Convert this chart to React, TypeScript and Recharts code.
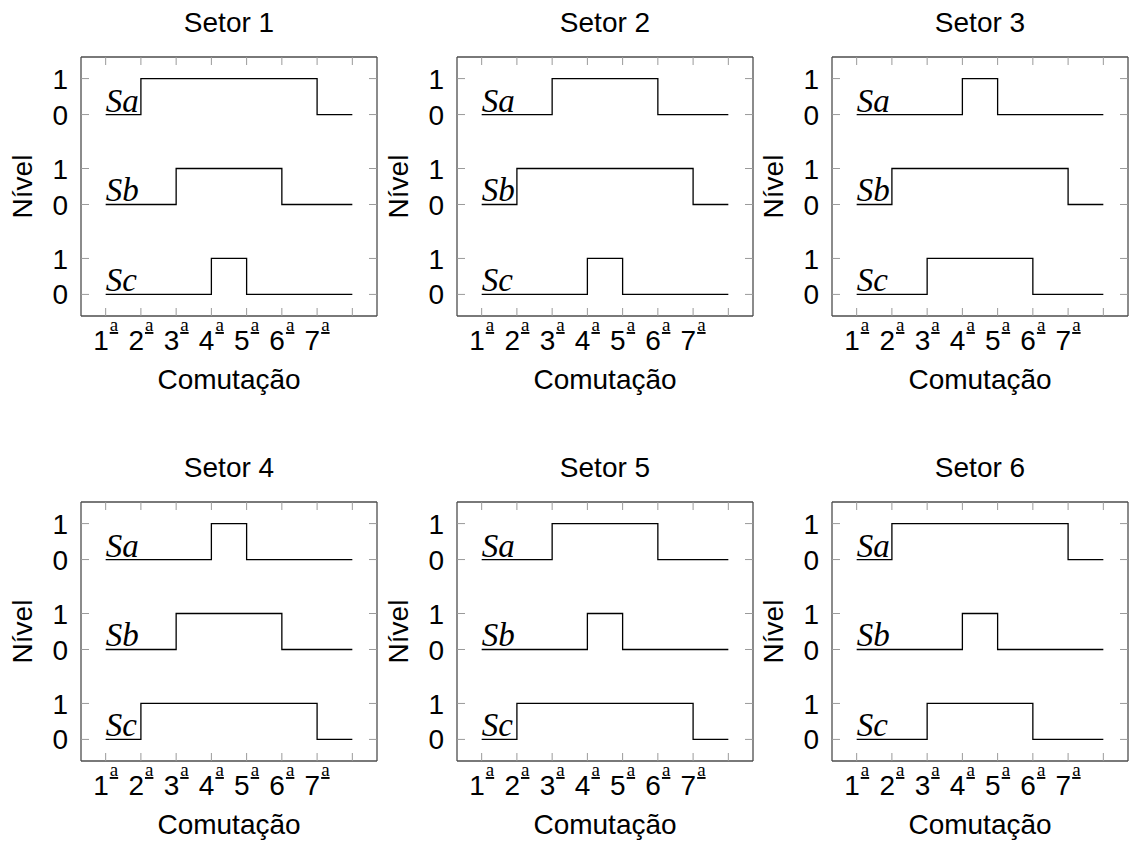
import React from 'react';
import { LineChart, Line, XAxis, YAxis, LabelList } from 'recharts';

// ---------- data ----------
const SECTOR_TITLES = ['Setor 1', 'Setor 2', 'Setor 3', 'Setor 4', 'Setor 5', 'Setor 6'];
const STEPS = [1, 2, 3, 4, 5, 6, 7, 8];
const X_TICK_NUMBERS = ['1', '2', '3', '4', '5', '6', '7', ''];
const X_TICK_SUFFIX = 'a';
const Y_TICKS = [0, 1, 2.5, 3.5, 5, 6];
const Y_TICK_LABELS = ['0', '1', '0', '1', '0', '1'];
const SERIES_NAMES = ['Sa', 'Sb', 'Sc'];
const SERIES_OFFSETS = [5, 2.5, 0];

const s1Sa = [0, 1, 1, 1, 1, 1, 0, 0];
const s1Sb = [0, 0, 1, 1, 1, 0, 0, 0];
const s1Sc = [0, 0, 0, 1, 0, 0, 0, 0];

const s2Sa = [0, 0, 1, 1, 1, 0, 0, 0];
const s2Sb = [0, 1, 1, 1, 1, 1, 0, 0];
const s2Sc = [0, 0, 0, 1, 0, 0, 0, 0];

const s3Sa = [0, 0, 0, 1, 0, 0, 0, 0];
const s3Sb = [0, 1, 1, 1, 1, 1, 0, 0];
const s3Sc = [0, 0, 1, 1, 1, 0, 0, 0];

const s4Sa = [0, 0, 0, 1, 0, 0, 0, 0];
const s4Sb = [0, 0, 1, 1, 1, 0, 0, 0];
const s4Sc = [0, 1, 1, 1, 1, 1, 0, 0];

const s5Sa = [0, 0, 1, 1, 1, 0, 0, 0];
const s5Sb = [0, 0, 0, 1, 0, 0, 0, 0];
const s5Sc = [0, 1, 1, 1, 1, 1, 0, 0];

const s6Sa = [0, 1, 1, 1, 1, 1, 0, 0];
const s6Sb = [0, 0, 0, 1, 0, 0, 0, 0];
const s6Sc = [0, 0, 1, 1, 1, 0, 0, 0];

const SECTOR_SERIES = [
  [s1Sa, s1Sb, s1Sc],
  [s2Sa, s2Sb, s2Sc],
  [s3Sa, s3Sb, s3Sc],
  [s4Sa, s4Sb, s4Sc],
  [s5Sa, s5Sb, s5Sc],
  [s6Sa, s6Sb, s6Sc],
];

// ---------- layout ----------
const BOX_LEFTS = [81, 457, 832];
const BOX_TOPS = [57, 502];
const BOX_W = 296;
const BOX_H = 259;
const OFF = { top: 57, right: 2, bottom: 90, left: 81 };
const M = { top: OFF.top - 1, right: OFF.right - 1, bottom: OFF.bottom - 1, left: OFF.left - 1 };
const CW = OFF.left + BOX_W + OFF.right;
const CH = OFF.top + BOX_H + OFF.bottom;

const SANS = '"Liberation Sans", Arial, sans-serif';
const SERIF = '"Liberation Serif", "Times New Roman", serif';
const FRAME = '#4d4d4d';
const TICK = '#9a9a9a';
const TICK_LEN = 8;

const BottomTick = (p: any) => {
  const { x, y, payload } = p;
  const idx = STEPS.indexOf(payload.value);
  const num = X_TICK_NUMBERS[idx] || '';
  return (
    <g>
      <line x1={x} x2={x} y1={y} y2={y - TICK_LEN} stroke={TICK} strokeWidth={1} />
      {num ? (
        <text x={x} y={y + 34} textAnchor="middle" fontFamily={SANS} fontSize={28} fill="#000">
          <tspan>{num}</tspan>
          <tspan
            fontFamily={SERIF}
            fontSize={19}
            dx={1}
            dy={-19}
            style={{ textDecoration: 'underline' }}
          >
            {X_TICK_SUFFIX}
          </tspan>
        </text>
      ) : null}
    </g>
  );
};

const TopTick = (p: any) => {
  const { x, y } = p;
  return <line x1={x} x2={x} y1={y} y2={y + TICK_LEN} stroke={TICK} strokeWidth={1} />;
};

const LeftTick = (p: any) => {
  const { x, y, payload } = p;
  const idx = Y_TICKS.indexOf(payload.value);
  return (
    <g>
      <line x1={x} x2={x + TICK_LEN} y1={y} y2={y} stroke={TICK} strokeWidth={1} />
      <text x={x - 13} y={y} dy="0.36em" textAnchor="end" fontFamily={SANS} fontSize={28} fill="#000">
        {Y_TICK_LABELS[idx]}
      </text>
    </g>
  );
};

const RightTick = (p: any) => {
  const { x, y } = p;
  return <line x1={x} x2={x - TICK_LEN} y1={y} y2={y} stroke={TICK} strokeWidth={1} />;
};

const makeSeriesLabel = (name: string) => (props: any) => {
  const { index } = props;
  const x = props.x ?? props.viewBox?.x;
  const y = props.y ?? props.viewBox?.y;
  if (index !== 0 || x == null || y == null) return <g />;
  return (
    <text x={x} y={y - 3} fontFamily={SERIF} fontStyle="italic" fontSize={33} fill="#000">
      {name}
    </text>
  );
};

const axisCommon = {
  allowDataOverflow: true,
  interval: 0 as const,
  tickSize: 0,
  tickMargin: 0,
  tickLine: false,
  axisLine: { stroke: FRAME, strokeWidth: 1.3 },
};

const Panel = ({ idx }: { idx: number }) => {
  const series = SECTOR_SERIES[idx];
  const rows = STEPS.map((s, i) => {
    const r: any = { x: s };
    SERIES_NAMES.forEach((n, k) => {
      r[n] = series[k][i] + SERIES_OFFSETS[k];
    });
    return r;
  });
  const col = idx % 3;
  const row = Math.floor(idx / 3);
  const left = BOX_LEFTS[col] - OFF.left;
  const top = BOX_TOPS[row] - OFF.top;
  const cx = OFF.left + BOX_W / 2;
  const cy = OFF.top + BOX_H / 2;
  return (
    <div style={{ position: 'absolute', left, top, width: CW, height: CH }}>
      <LineChart width={CW} height={CH} data={rows} margin={M}>
        <XAxis
          {...axisCommon}
          dataKey="x"
          type="number"
          domain={[0.3, 8.7]}
          ticks={STEPS}
          height={1}
          tick={BottomTick}
        />
        <XAxis
          {...axisCommon}
          xAxisId="top"
          orientation="top"
          dataKey="x"
          type="number"
          domain={[0.3, 8.7]}
          ticks={STEPS}
          height={1}
          tick={TopTick}
        />
        <YAxis
          {...axisCommon}
          type="number"
          domain={[-0.6, 6.6]}
          ticks={Y_TICKS}
          width={1}
          tick={LeftTick}
        />
        <YAxis
          {...axisCommon}
          yAxisId="right"
          orientation="right"
          type="number"
          domain={[-0.6, 6.6]}
          ticks={Y_TICKS}
          width={1}
          tick={RightTick}
        />
        {SERIES_NAMES.map((n) => (
          <Line
            key={n}
            dataKey={n}
            type="stepAfter"
            stroke="#000"
            strokeWidth={1.3}
            dot={false}
            activeDot={false}
            isAnimationActive={false}
          >
            <LabelList dataKey={n} content={makeSeriesLabel(n)} />
          </Line>
        ))}
      </LineChart>
      <svg
        width={CW}
        height={CH}
        style={{ position: 'absolute', left: 0, top: 0, pointerEvents: 'none', overflow: 'visible' }}
      >
        <text x={cx} y={32} textAnchor="middle" fontFamily={SANS} fontSize={28} fill="#000">
          {SECTOR_TITLES[idx]}
        </text>
        <text
          x={32}
          y={cy}
          textAnchor="middle"
          transform={`rotate(-90 32 ${cy})`}
          fontFamily={SANS}
          fontSize={28}
          fill="#000"
        >
          Nível
        </text>
        <text x={cx} y={OFF.top + BOX_H + 73} textAnchor="middle" fontFamily={SANS} fontSize={28} fill="#000">
          Comutação
        </text>
      </svg>
    </div>
  );
};

export default function App() {
  return (
    <div
      style={{
        position: 'absolute',
        left: 0,
        top: 0,
        width: 1129,
        height: 847,
        overflow: 'hidden',
        background: '#fff',
      }}
    >
      {SECTOR_TITLES.map((_, i) => (
        <Panel key={i} idx={i} />
      ))}
    </div>
  );
}
